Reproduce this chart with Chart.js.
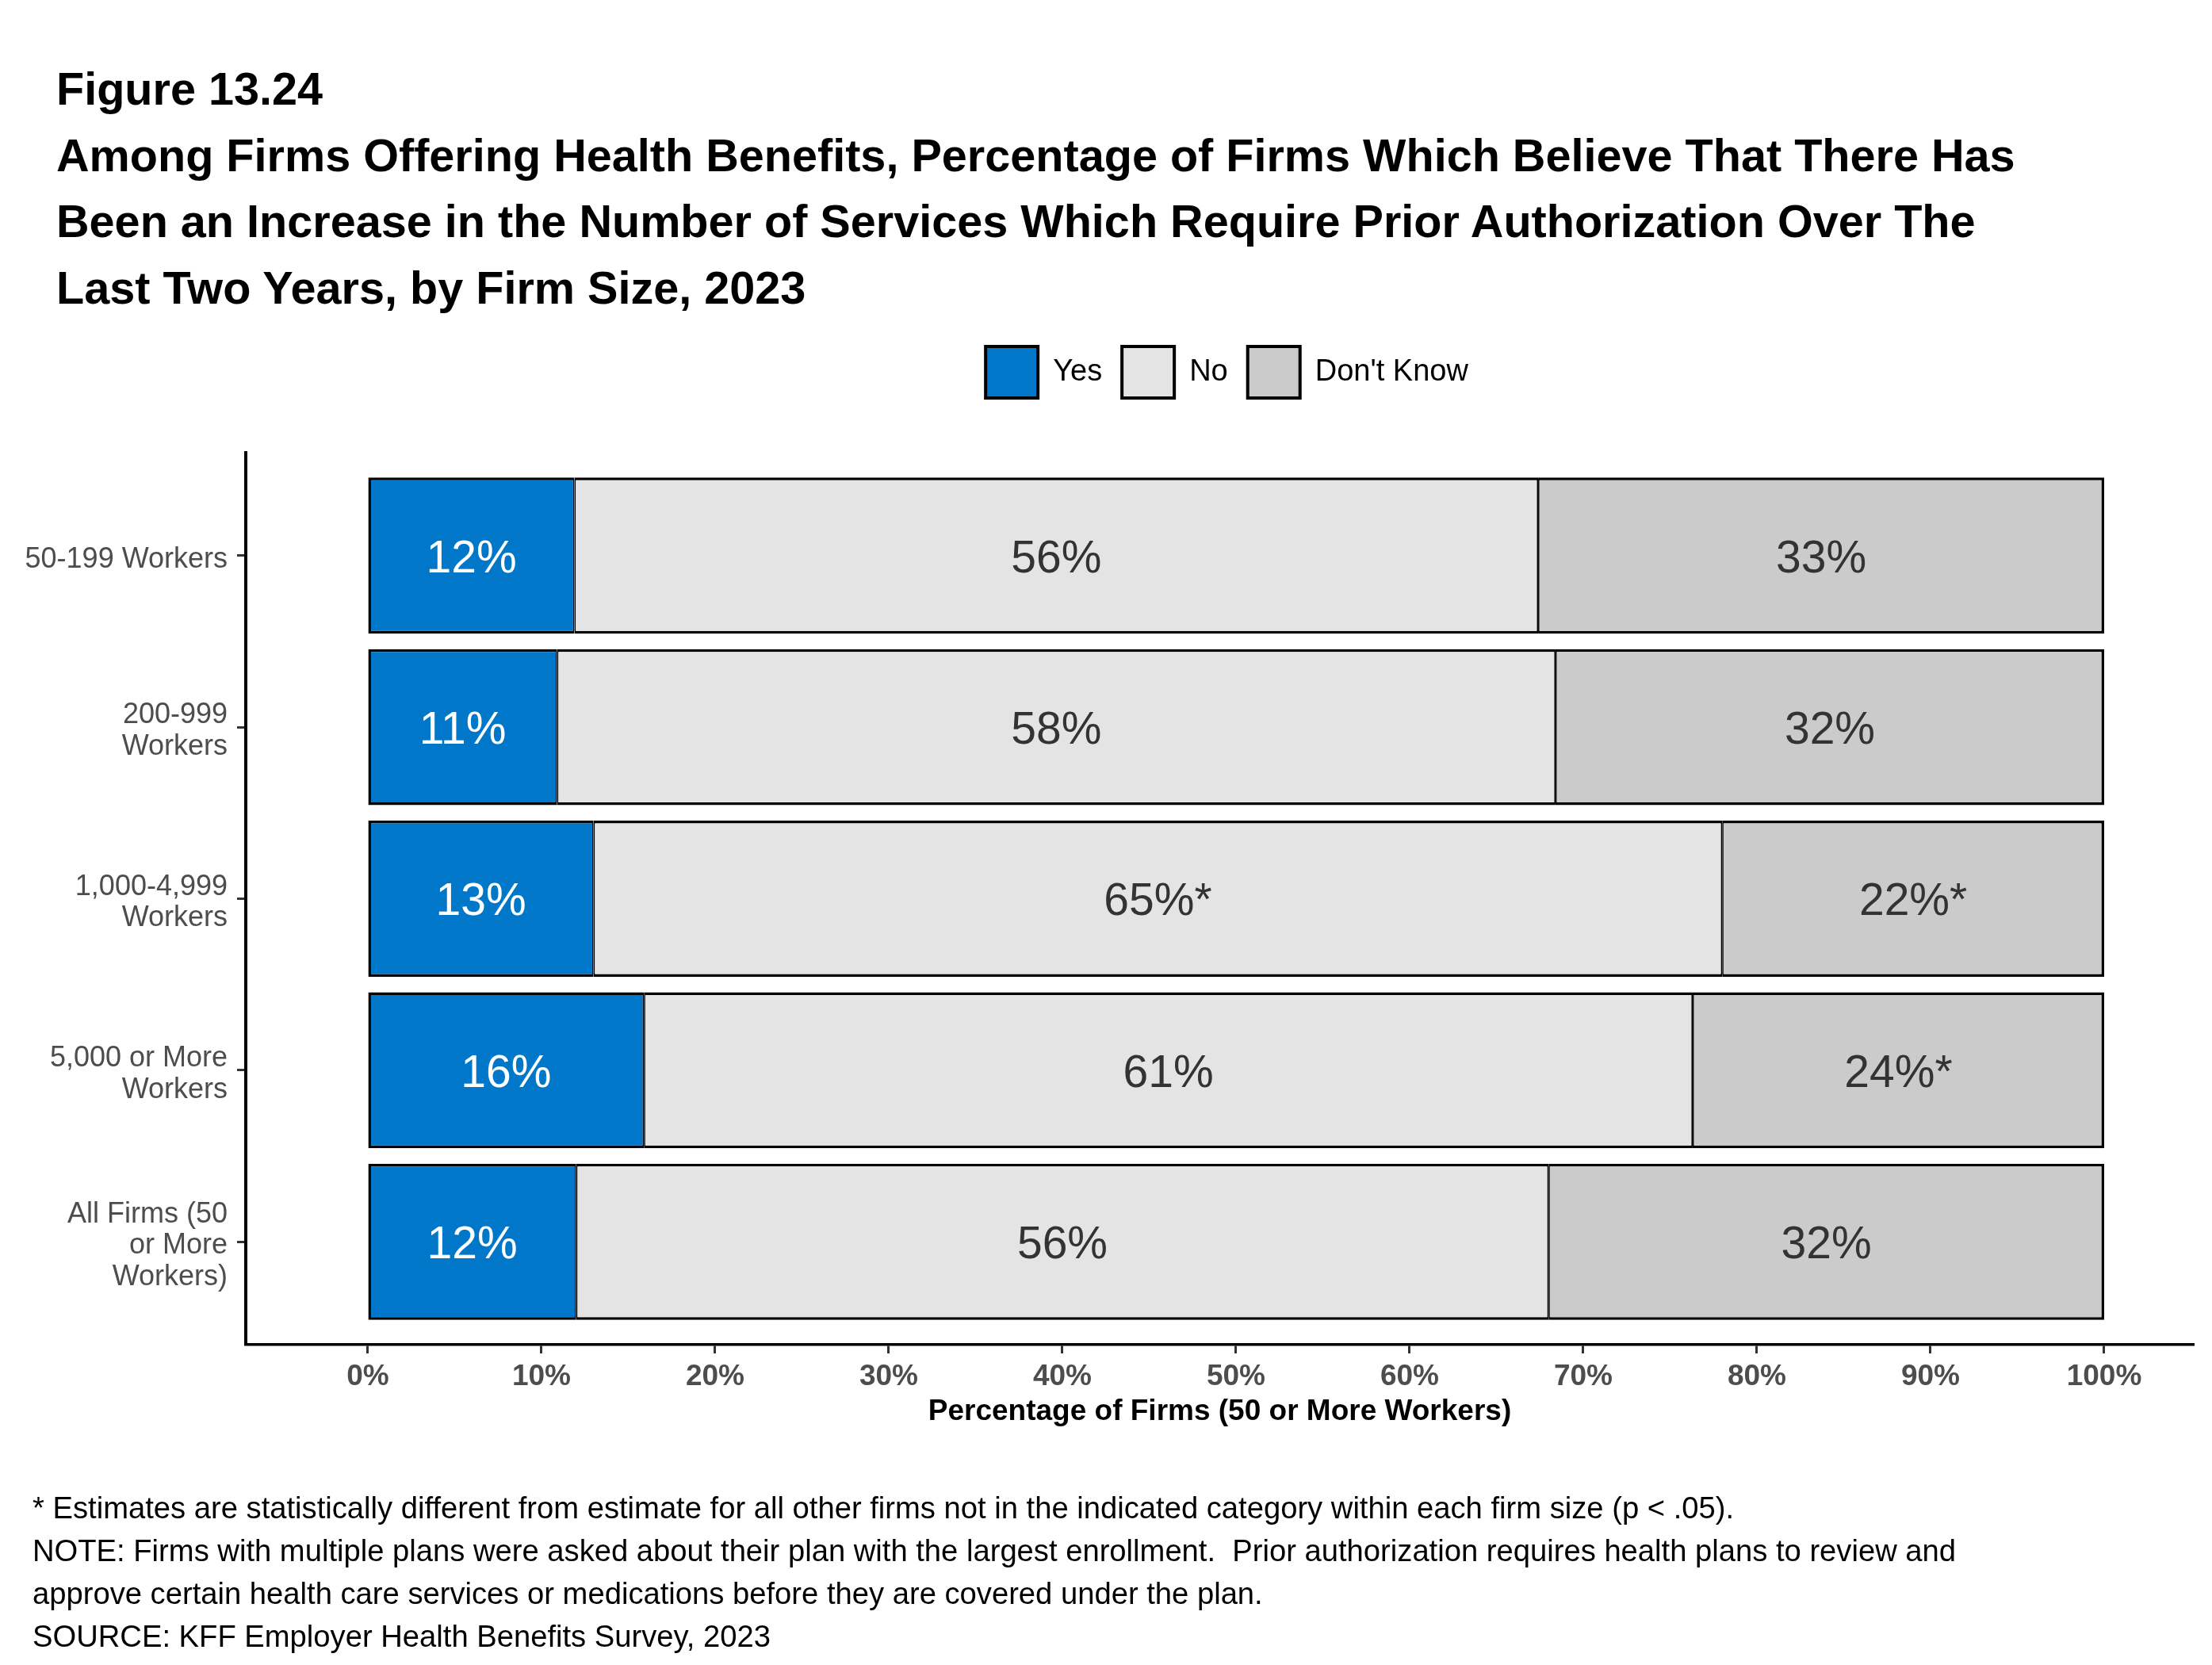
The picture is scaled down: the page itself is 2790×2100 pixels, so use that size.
<!DOCTYPE html>
<html>
<head>
<meta charset="utf-8">
<script src="https://cdn.jsdelivr.net/npm/chart.js@4.4.1/dist/chart.umd.min.js"></script>
<style>
  body { margin: 0; background: #fff; }
  #wrap { position: relative; width: 2790px; height: 2100px; overflow: hidden; }
  #chart { position: absolute; left: 0; top: 0; }
  .title { position: absolute; left: 71px; top: 71px; font: bold 57.6px 'Liberation Sans', Arial, sans-serif; line-height: 83.67px; color: #000; white-space: pre; }
  .notes { position: absolute; left: 41px; top: 1875px; font: 38.2px 'Liberation Sans', Arial, sans-serif; line-height: 54px; color: #000; white-space: pre; }
</style>
</head>
<body>
<div id="wrap">
  <canvas id="chart" width="2790" height="2100"></canvas>
  <div class="title">Figure 13.24
Among Firms Offering Health Benefits, Percentage of Firms Which Believe That There Has
Been an Increase in the Number of Services Which Require Prior Authorization Over The
Last Two Years, by Firm Size, 2023</div>
  <div class="notes">* Estimates are statistically different from estimate for all other firms not in the indicated category within each firm size (p &lt; .05).
NOTE: Firms with multiple plans were asked about their plan with the largest enrollment.  Prior authorization requires health plans to review and
approve certain health care services or medications before they are covered under the plan.
SOURCE: KFF Employer Health Benefits Survey, 2023</div>
</div>
<script>
// datos
const categorias = [
  ["50-199 Workers"],
  ["200-999", "Workers"],
  ["1,000-4,999", "Workers"],
  ["5,000 or More", "Workers"],
  ["All Firms (50", "or More", "Workers)"]
];
const yesValues = [11.9, 10.9, 13.0, 15.9, 12.0];
const noValues = [55.5, 57.5, 65.0, 60.4, 56.0];
const dontKnowValues = [32.6, 31.6, 22.0, 23.7, 32.0];
const yesLabels = ["12%", "11%", "13%", "16%", "12%"];
const noLabels = ["56%", "58%", "65%*", "61%", "56%"];
const dontKnowLabels = ["33%", "32%", "22%*", "24%*", "32%"];
const xTicks = [0, 10, 20, 30, 40, 50, 60, 70, 80, 90, 100];

Chart.defaults.font.family = "'Liberation Sans', Arial, sans-serif";

const toPoints = vals => vals.map((v, i) => ({ x: v, y: i }));
const segmentLabels = [yesLabels, noLabels, dontKnowLabels];
const labelColors = ["#ffffff", "#333333", "#333333"];

// etiquetas dentro de cada segmento
const barLabels = {
  id: "barLabels",
  afterDatasetsDraw(chart) {
    const ctx = chart.ctx;
    ctx.save();
    ctx.font = "57px 'Liberation Sans', Arial, sans-serif";
    ctx.textAlign = "center";
    ctx.textBaseline = "middle";
    chart.data.datasets.forEach((ds, di) => {
      chart.getDatasetMeta(di).data.forEach((bar, i) => {
        ctx.fillStyle = labelColors[di];
        ctx.fillText(segmentLabels[di][i], (bar.x + bar.base) / 2, bar.y + 5);
      });
    });
    ctx.restore();
  }
};

// altura fija de la leyenda y pequeño desplazamiento a la derecha
const legendHeight = {
  id: "legendHeight",
  beforeInit(chart) {
    const fit = chart.legend.fit;
    chart.legend.fit = function () {
      fit.call(this);
      this.height = 159;
    };
  },
  afterLayout(chart) {
    chart.legend.left += 9;
    chart.legend.right += 9;
  }
};

const ctx = document.getElementById("chart").getContext("2d");
const chart = new Chart(ctx, {
  type: "bar",
  data: {
    datasets: [
      { label: "Yes", data: toPoints(yesValues), backgroundColor: "#0077c8",
        borderColor: "#000", borderWidth: { top: 3.5, bottom: 3.5, left: 3.5, right: 1.7 } },
      { label: "No", data: toPoints(noValues), backgroundColor: "#e4e4e4",
        borderColor: "#000", borderWidth: { top: 3.5, bottom: 3.5, left: 1.7, right: 1.7 } },
      { label: "Don't Know", data: toPoints(dontKnowValues), backgroundColor: "#cbcbcb",
        borderColor: "#000", borderWidth: { top: 3.5, bottom: 3.5, left: 1.7, right: 3.5 } }
    ]
  },
  options: {
    indexAxis: "y",
    responsive: false,
    devicePixelRatio: 1,
    animation: false,
    layout: { padding: { top: 412, left: 0, right: 23, bottom: 284 } },
    datasets: { bar: { barPercentage: 0.91, categoryPercentage: 1, borderSkipped: false } },
    plugins: {
      title: { display: false },
      tooltip: { enabled: false },
      legend: {
        position: "top",
        fullSize: false,
        labels: {
          boxWidth: 66,
          boxHeight: 65,
          padding: 25,
          color: "#000",
          font: { size: 38 },
          generateLabels: c => Chart.defaults.plugins.legend.labels.generateLabels(c)
            .map(l => ({ ...l, lineWidth: 4, strokeStyle: "#000" }))
        }
      }
    },
    scales: {
      x: {
        type: "linear",
        stacked: true,
        min: -7.03,
        max: 105.16,
        afterBuildTicks: s => { s.ticks = xTicks.map(v => ({ value: v })); },
        afterFit: s => { s.height = 120; },
        grid: { drawOnChartArea: false, drawTicks: true, tickLength: 11, tickColor: "#333", tickWidth: 3 },
        border: { display: true, color: "#000", width: 3.5 },
        ticks: { padding: 8, color: "#4d4d4d", font: { size: 37, weight: "bold" }, callback: v => v + "%" },
        title: { display: true, text: "Percentage of Firms (50 or More Workers)", color: "#000",
                 font: { size: 37, weight: "bold" }, padding: { top: 0, bottom: 13 } }
      },
      y: {
        type: "linear",
        stacked: true,
        reverse: true,
        offset: false,
        min: -0.6,
        max: 4.6,
        afterBuildTicks: s => { s.ticks = categorias.map((c, i) => ({ value: i })); },
        afterFit: s => { s.width = 310; },
        grid: { offset: false, drawOnChartArea: false, drawTicks: true, tickLength: 11, tickColor: "#333", tickWidth: 3 },
        border: { display: true, color: "#000", width: 4 },
        ticks: { padding: 12, labelOffset: 5, color: "#4d4d4d", font: { size: 36, lineHeight: 1.1 }, autoSkip: false,
                 callback: v => categorias[v] }
      }
    }
  },
  plugins: [barLabels, legendHeight]
});
</script>
</body>
</html>
